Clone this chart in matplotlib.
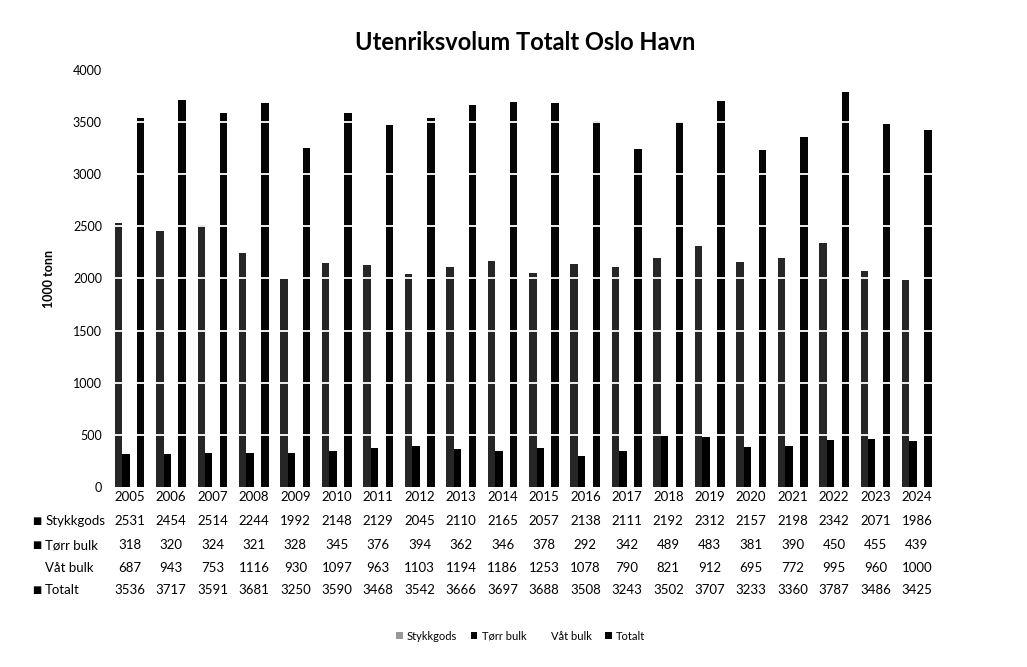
import numpy as np
import matplotlib
matplotlib.use('Agg')
import matplotlib.pyplot as plt
from matplotlib.patches import Patch

plt.rcParams['font.family'] = ['Lato', 'DejaVu Sans']

# Data (1000 tonn)
years = [2005, 2006, 2007, 2008, 2009, 2010, 2011, 2012, 2013, 2014,
         2015, 2016, 2017, 2018, 2019, 2020, 2021, 2022, 2023, 2024]
stykkgods = [2531, 2454, 2514, 2244, 1992, 2148, 2129, 2045, 2110, 2165,
             2057, 2138, 2111, 2192, 2312, 2157, 2198, 2342, 2071, 1986]
torr_bulk = [318, 320, 324, 321, 328, 345, 376, 394, 362, 346,
             378, 292, 342, 489, 483, 381, 390, 450, 455, 439]
vat_bulk = [687, 943, 753, 1116, 930, 1097, 963, 1103, 1194, 1186,
            1253, 1078, 790, 821, 912, 695, 772, 995, 960, 1000]
totalt = [3536, 3717, 3591, 3681, 3250, 3590, 3468, 3542, 3666, 3697,
          3688, 3508, 3243, 3502, 3707, 3233, 3360, 3787, 3486, 3425]

series_names = ['Stykkgods', 'Tørr bulk', 'Våt bulk', 'Totalt']
series_data = [stykkgods, torr_bulk, vat_bulk, totalt]
colors = ['#262626', '#000000', '#ffffff', '#050505']

fig = plt.figure(figsize=(10.27, 6.67), dpi=100)
ax = fig.add_axes([0.106, 0.270, 0.807, 0.625])

x = np.arange(len(years))
w = 0.18
offsets = [-1.5 * w, -0.5 * w, 0.5 * w, 1.5 * w]
for name, vals, col, off in zip(series_names, series_data, colors, offsets):
    ax.bar(x + off, vals, width=w, color=col, label=name, zorder=2)

ax.set_xlim(-0.5, len(years) - 0.5)
ax.set_ylim(0, 4000)
ax.set_yticks(range(0, 4001, 500))
ax.tick_params(axis='y', length=0, labelsize=9, pad=5)
ax.tick_params(axis='x', length=0, labelbottom=False)
for s in ax.spines.values():
    s.set_visible(False)

# faint background grid plus the white breaks seen across the bars
for yv in range(500, 4001, 500):
    ax.axhline(yv, color='#bbbbbb', lw=0.6, ls=(0, (1, 6)), zorder=0)
    ax.axhline(yv, color='white', lw=1.3, zorder=3)

ax.set_ylabel('1000 tonn', fontsize=9, fontweight='bold')
ax.yaxis.set_label_coords(-0.065, 0.5)
fig.text(0.511, 1 - 42 / 667, 'Utenriksvolum Totalt Oslo Havn',
         ha='center', va='center', fontsize=17, fontweight='bold')

# data table below the plot
trans = ax.get_xaxis_transform()
for i, yr in enumerate(years):
    ax.text(i, -0.024, str(yr), transform=trans, ha='center', va='center',
            fontsize=9.5, clip_on=False)
row_y = [-0.082, -0.139, -0.194, -0.247]
for ry, vals in zip(row_y, series_data):
    for i, v in enumerate(vals):
        ax.text(i, ry, str(v), transform=trans, ha='center', va='center',
                fontsize=9.5, clip_on=False)

row_fig_y = [1 - 521 / 667, 1 - 545 / 667, 1 - 568 / 667, 1 - 590 / 667]
markers = ['■', '■', '', '■']
for ry, name, mk in zip(row_fig_y, series_names, markers):
    if mk:
        fig.text(0.036, ry, mk, ha='center', va='center', fontsize=7,
                 family='DejaVu Sans')
    fig.text(0.044, ry, name, ha='left', va='center', fontsize=9.5)

handles = [Patch(facecolor=c, edgecolor='none') for c in colors]
handles[0] = Patch(facecolor='#999999', edgecolor='none')
fig.legend(handles, series_names, loc='center', ncol=4,
           bbox_to_anchor=(0.507, 1 - 636 / 667), frameon=False,
           fontsize=8, handlelength=0.6, handleheight=0.6,
           handletextpad=0.4, columnspacing=1.2)

fig.savefig('out.png', dpi=100)
